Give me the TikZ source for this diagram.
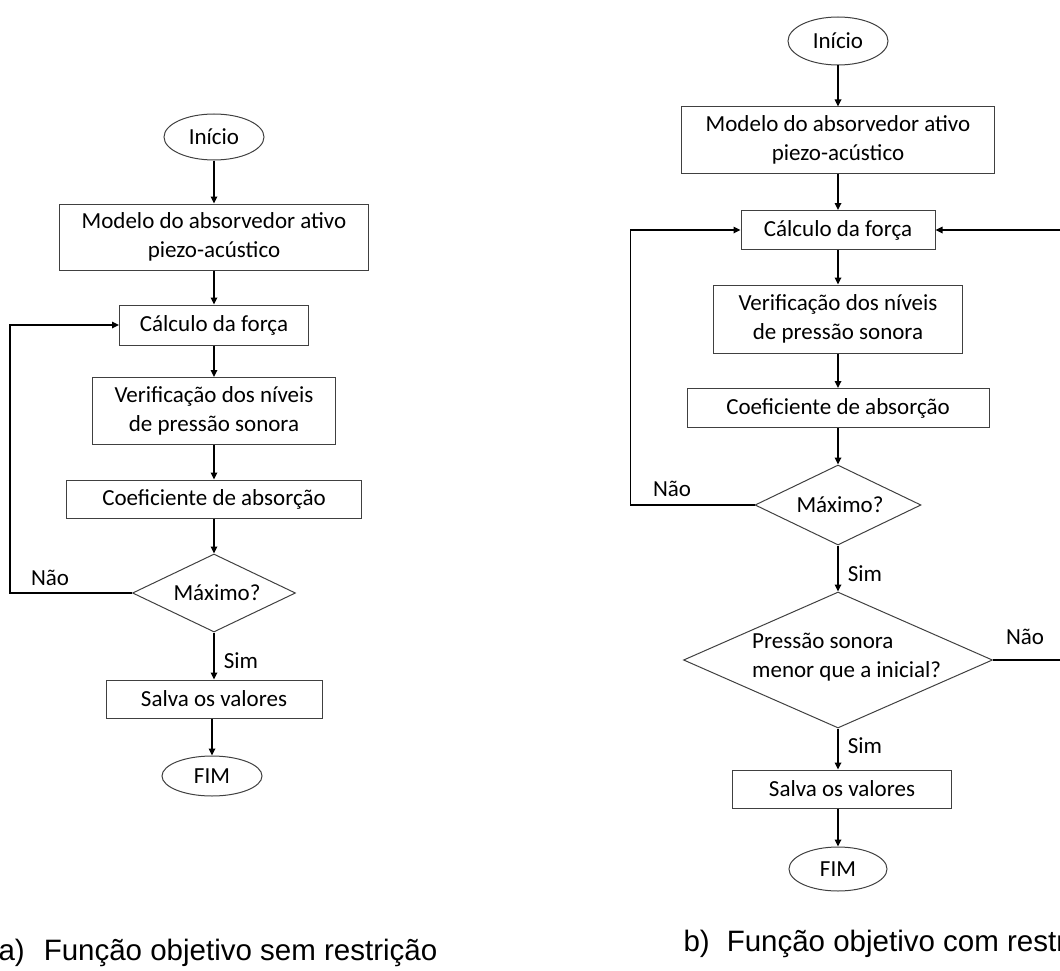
\documentclass[tikz,border=0pt]{standalone}
\usepackage{fontspec}
\setmainfont{Carlito}
\newfontfamily\capfont{Liberation Sans}
\usetikzlibrary{shapes.geometric,arrows.meta}
\definecolor{edge}{HTML}{404040}

\begin{document}
\begin{tikzpicture}[x=1pt,y=-1pt,font=\fontsize{23}{29}\selectfont,
  box/.style={draw=edge,line width=1pt,align=center,inner sep=0pt},
  term/.style={draw=edge,line width=1pt,ellipse,inner sep=0pt},
  decide/.style={draw=edge,line width=1pt,diamond,inner sep=0pt},
  flow/.style={line width=1.6pt,-{Triangle[length=7pt,width=6.5pt]}},
  caption/.style={font=\capfont\fontsize{29.5}{33}\selectfont,anchor=west}]
  \useasboundingbox (0,0) rectangle (1060,971);
  \clip (0,0) rectangle (1060,971);

  % a) without constraint
  \node[term,minimum width=100pt,minimum height=46pt] (ini-a) at (214,137) {Início};
  \node[box,minimum width=309pt,minimum height=66pt] (modelo-a) at (214,237) {Modelo do absorvedor ativo\\piezo-acústico};
  \node[box,minimum width=189pt,minimum height=40pt] (calc-a) at (214,325) {Cálculo da força};
  \node[box,minimum width=243pt,minimum height=67pt] (verif-a) at (214,411) {Verificação dos níveis\\de pressão sonora};
  \node[box,minimum width=295pt,minimum height=38pt] (coef-a) at (214,499) {Coeficiente de absorção};
  \node[decide,minimum width=163pt,minimum height=78pt] (max-a) at (214,593) {};
  \node (max-a-txt) at (217,593) {Máximo?};
  \node[box,minimum width=216pt,minimum height=38pt] (salva-a) at (214,699) {Salva os valores};
  \node[term,minimum width=100pt,minimum height=40pt] (fim-a) at (212,776) {FIM};

  \draw[flow] (ini-a.south) -- (modelo-a.north);
  \draw[flow] (modelo-a.south) -- (calc-a.north);
  \draw[flow] (calc-a.south) -- (verif-a.north);
  \draw[flow] (verif-a.south) -- (coef-a.north);
  \draw[flow] (coef-a.south) -- (max-a.north);
  \draw[flow] (max-a.south) -- (salva-a.north);
  \draw[flow] (salva-a.south -| fim-a.north) -- (fim-a.north);
  \draw[flow] (max-a.west) -- ++(-122,0) |- (calc-a.west);
  \node (nao-a) at (50,578) {Não};
  \node (sim-a) at (241,661) {Sim};

  % b) with constraint
  \node[term,minimum width=100pt,minimum height=48pt] (ini-b) at (838,41) {Início};
  \node[box,minimum width=313pt,minimum height=66pt] (modelo-b) at (838,140) {Modelo do absorvedor ativo\\piezo-acústico};
  \node[box,minimum width=194pt,minimum height=39pt] (calc-b) at (838,230) {Cálculo da força};
  \node[box,minimum width=249pt,minimum height=68pt] (verif-b) at (838,319) {Verificação dos níveis\\de pressão sonora};
  \node[box,minimum width=302pt,minimum height=39pt] (coef-b) at (838,408) {Coeficiente de absorção};
  \node[decide,minimum width=166pt,minimum height=80pt] (max-b) at (838,505) {};
  \node (max-b-txt) at (840,505) {Máximo?};
  \node[decide,minimum width=309pt,minimum height=136pt] (pres-b) at (838,660) {};
  \node[align=left,anchor=west,inner sep=0pt] (pres-b-txt) at (752,657) {Pressão sonora\\menor que a inicial?};
  \node[box,minimum width=219pt,minimum height=38pt] (salva-b) at (842,789) {Salva os valores};
  \node[term,minimum width=98pt,minimum height=44pt] (fim-b) at (838,869) {FIM};

  \draw[flow] (ini-b.south) -- (modelo-b.north);
  \draw[flow] (modelo-b.south) -- (calc-b.north);
  \draw[flow] (calc-b.south) -- (verif-b.north);
  \draw[flow] (verif-b.south) -- (coef-b.north);
  \draw[flow] (coef-b.south) -- (max-b.north);
  \draw[flow] (max-b.south) -- (pres-b.north);
  \draw[flow] (pres-b.south) -- (salva-b.north -| pres-b.south);
  \draw[flow] (salva-b.south -| fim-b.north) -- (fim-b.north);
  \draw[flow] (max-b.west) -- ++(-124,0) |- (calc-b.west);
  \draw[flow] (pres-b.east) -- ++(100,0) |- (calc-b.east);
  \node (nao-b1) at (672,489) {Não};
  \node (sim-b1) at (865,574) {Sim};
  \node (nao-b2) at (1025,637) {Não};
  \node (sim-b2) at (865,746) {Sim};

  % captions
  \node[caption] (cap-a) at (-5,953) {a)\hspace{19pt}Função objetivo sem restrição};
  \node[caption] (cap-b) at (680,944) {b)\hspace{17pt}Função objetivo com restrição};
\end{tikzpicture}
\end{document}
